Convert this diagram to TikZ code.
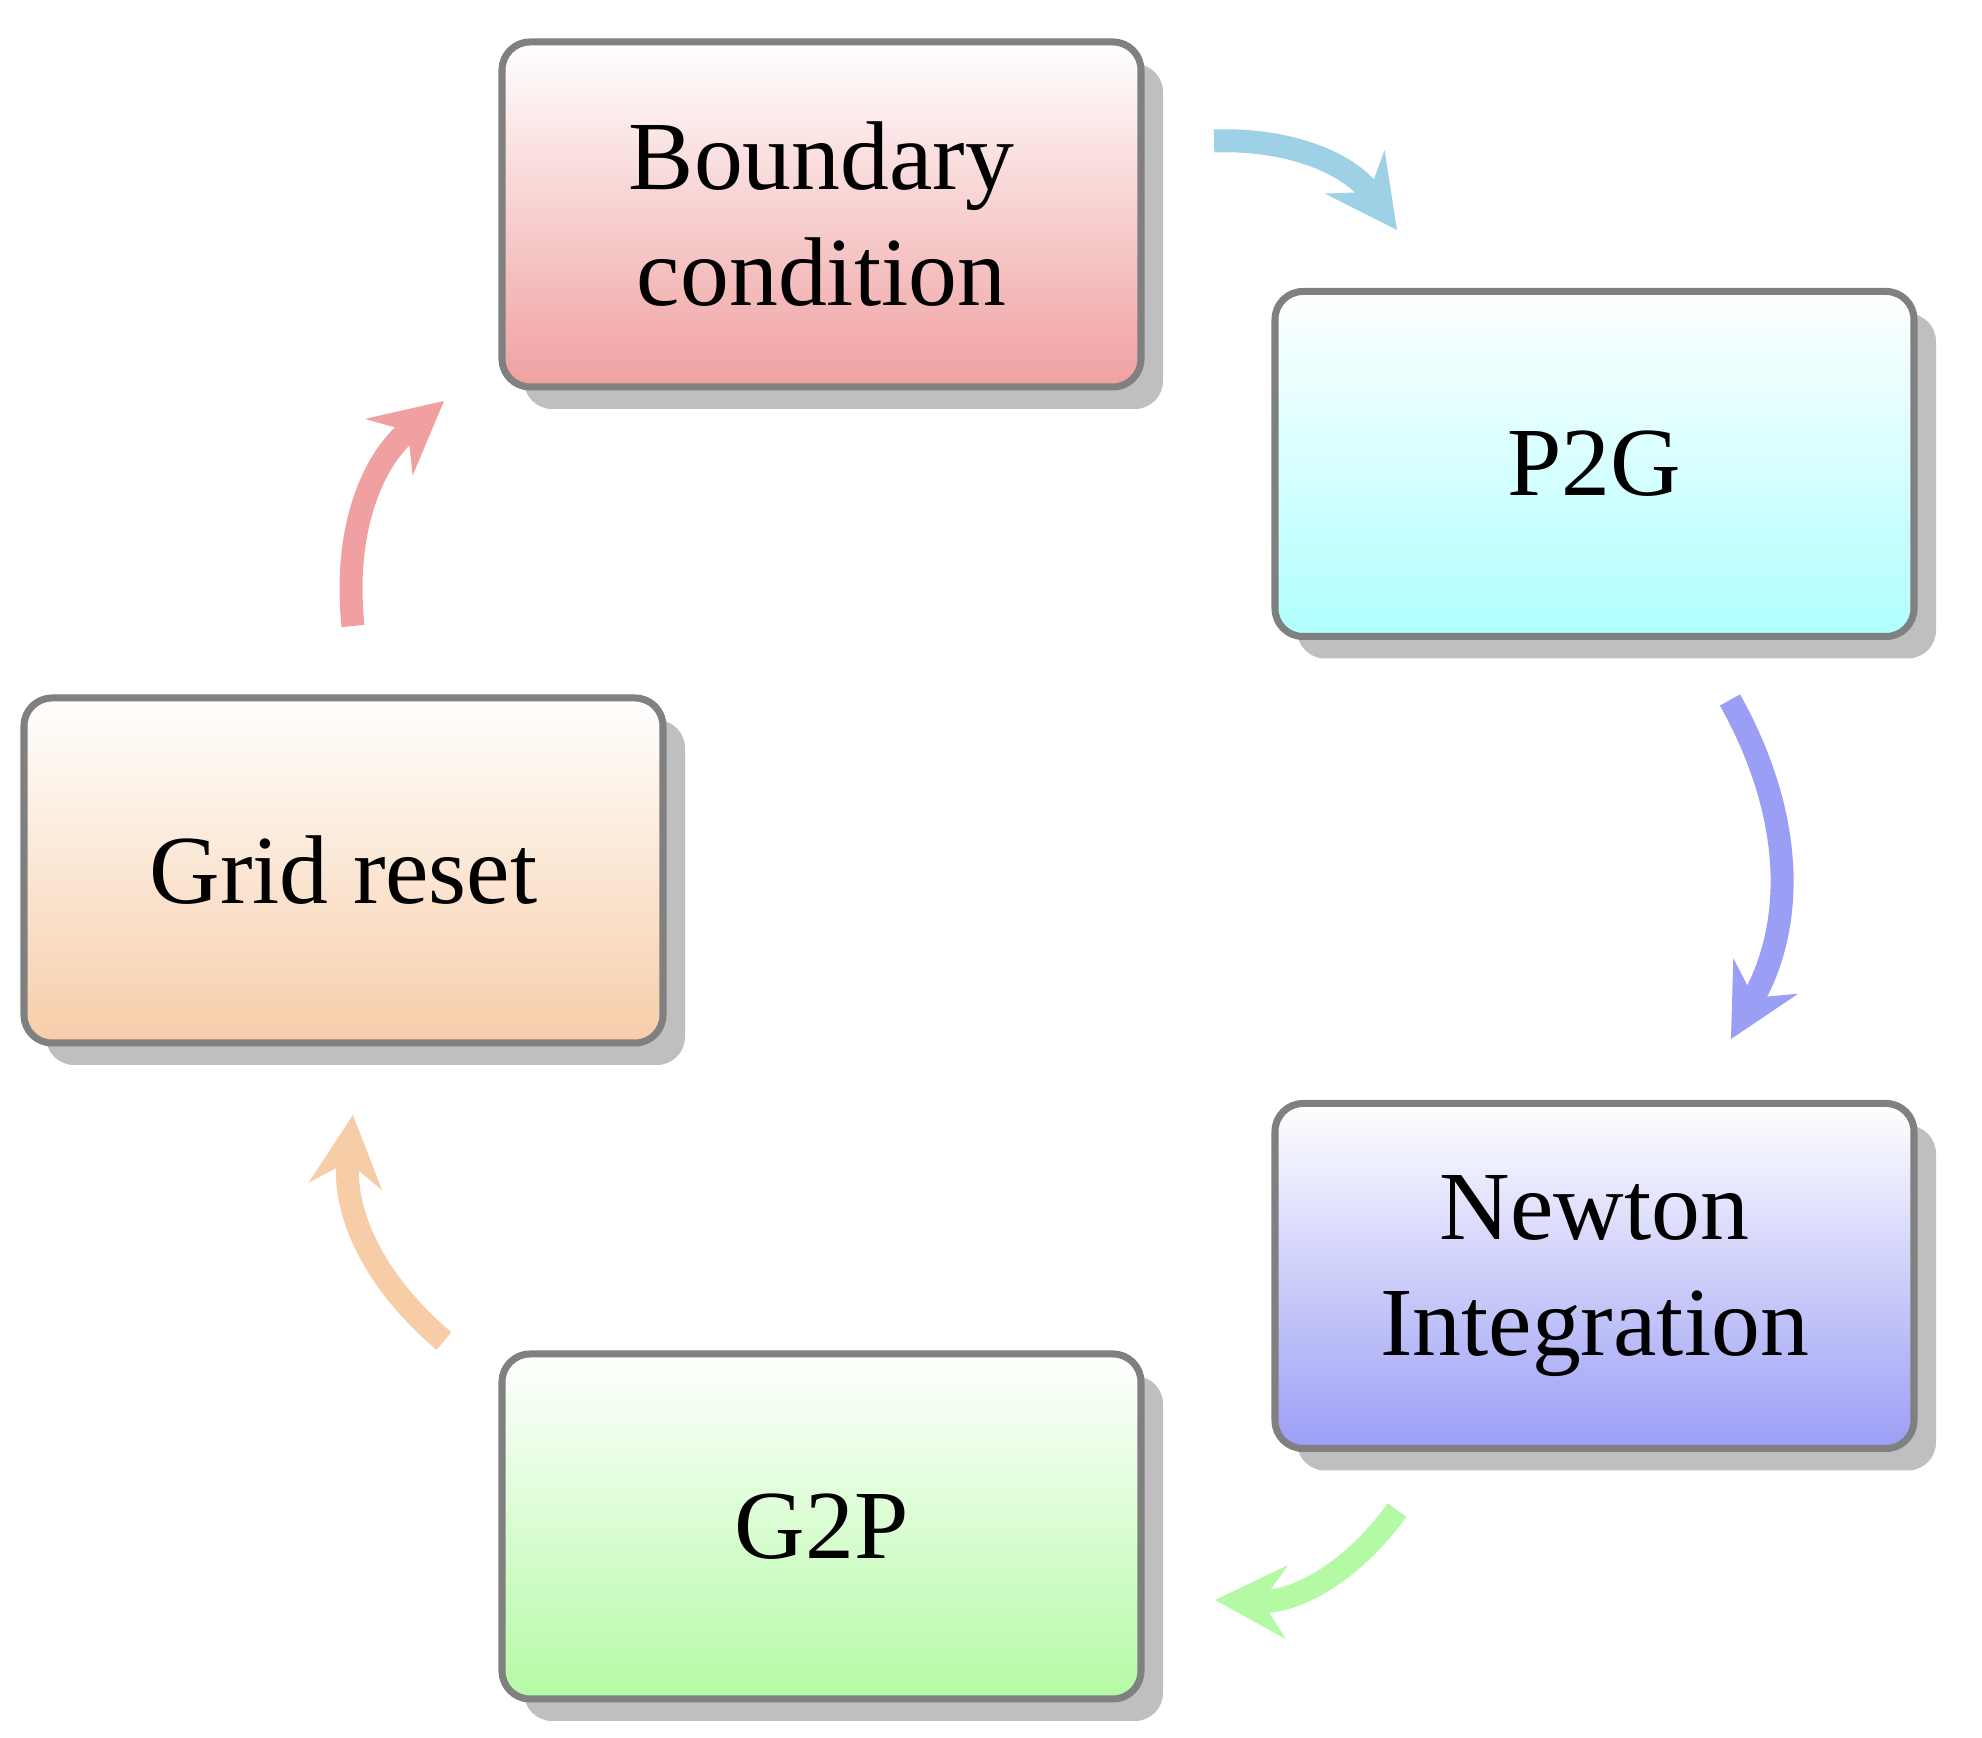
\documentclass[tikz,border=0pt]{standalone}
\usepackage{fontspec}
\setmainfont{Liberation Serif}
\usetikzlibrary{arrows.meta,shadows}

\definecolor{bcred}{HTML}{F0A0A0}
\definecolor{pgcyan}{HTML}{B0FFFF}
\definecolor{niblue}{HTML}{9B9EF5}
\definecolor{gpgreen}{HTML}{B4FAA5}
\definecolor{grorange}{HTML}{F7CDA8}
\definecolor{arblue}{HTML}{9ED0E6}

\begin{document}
\begin{tikzpicture}[
  box/.style={draw=gray,line width=2pt,rounded corners=0.28cm,
    minimum width=6.39cm,minimum height=3.45cm,align=center,
    font=\fontsize{27.8}{33}\selectfont,
    drop shadow={shadow xshift=0.22cm,shadow yshift=-0.22cm,opacity=0.5,fill=black!50}},
  flow/.style={line width=0.23cm,
    -{Stealth[length=0.72cm,width=0.74cm,inset=0.25cm,line width=0pt]}}
]

\useasboundingbox (0,0) rectangle (19.82,17.38);

% steps of the cycle
\node[box,top color=white,bottom color=bcred] (bc) at (8.215,15.235) {Boundary\\condition};
\node[box,top color=white,bottom color=pgcyan] (pg) at (15.945,12.74) {P2G};
\node[box,top color=white,bottom color=niblue] (ni) at (15.945,4.62) {Newton\\Integration};
\node[box,top color=white,bottom color=gpgreen] (gp) at (8.215,2.115) {G2P};
\node[box,top color=white,bottom color=grorange] (gr) at (3.435,8.675) {Grid reset};

% arrow ends
\coordinate (s1) at (12.14,15.97);  \coordinate (e1) at (13.97,15.08);
\coordinate (s2) at (17.30,10.38);  \coordinate (e2) at (17.31,6.99);
\coordinate (s3) at (13.97,2.28);   \coordinate (e3) at (12.15,1.38);
\coordinate (s4) at (4.44,3.97);    \coordinate (e4) at (3.53,6.23);
\coordinate (s5) at (3.53,11.12);   \coordinate (e5) at (4.44,13.37);

\draw[flow,arblue] (s1) to[bend left=28] (e1);
\draw[flow,niblue] (s2) to[bend left=29] (e2);
\draw[flow,gpgreen] (s3) to[bend left=28] (e3);
\draw[flow,grorange] (s4) to[bend left=28] (e4);
\draw[flow,bcred] (s5) to[bend left=28] (e5);

\end{tikzpicture}
\end{document}
